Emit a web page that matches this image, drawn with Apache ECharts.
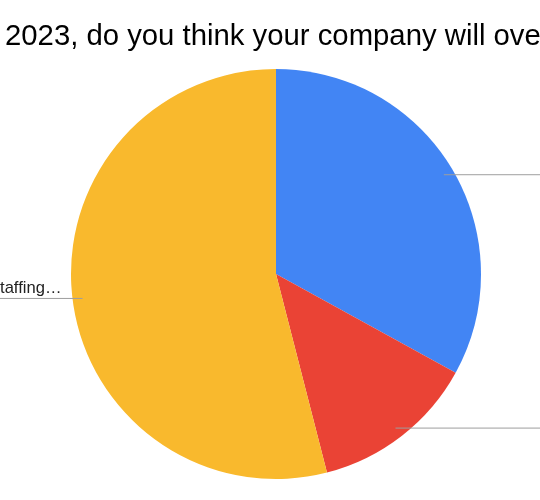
<!DOCTYPE html>
<html>
<head>
<meta charset="utf-8">
<script src="https://cdn.jsdelivr.net/npm/echarts@6/dist/echarts.min.js"></script>
<style>html,body{margin:0;padding:0;background:#fff}#c{width:540px;height:500px}</style>
</head>
<body>
<div id="c"></div>
<script>
const titleText = "2023, do you think your company will ove";
const categories = ["Yes", "Unsure", "taffing…"];
const values = [33, 13, 54];
const colors = ["#4285F4", "#EA4335", "#F9B92D"];
const shownLabels = [false, false, true];

const chart = echarts.init(document.getElementById('c'), null, {renderer: 'canvas'});
const pieData = categories.map((c, i) => ({name: c, value: values[i], itemStyle: {color: colors[i]}}));
const lineData = categories.map((c, i) => ({name: c, value: values[i]}));
const textData = categories.map((c, i) => ({
  name: c, value: values[i], label: {show: shownLabels[i]}
}));
const font = 'Liberation Sans, Arial';
chart.setOption({
  animation: false,
  title: {
    text: titleText, left: 0, top: 17,
    textStyle: {fontFamily: font, fontSize: 29.3, fontWeight: 'normal', color: '#000'}
  },
  series: [
    {
      type: 'pie', z: 1, center: [276, 274], radius: 205, startAngle: 90, clockwise: true,
      label: {show: false}, labelLine: {show: false}, silent: true,
      itemStyle: {borderWidth: 0},
      data: pieData
    },
    {
      type: 'pie', z: 3, center: [276, 274], radius: 195, startAngle: 90, clockwise: true,
      silent: true, avoidLabelOverlap: false,
      itemStyle: {color: 'rgba(0,0,0,0)', borderWidth: 0},
      label: {show: true, position: 'outside', color: 'rgba(0,0,0,0)', fontSize: 12, overflow: 'none',
        formatter: () => ' '},
      labelLine: {show: true, length: 0.01, length2: 200, minTurnAngle: 0, maxSurfaceAngle: 180,
        lineStyle: {color: '#9e9e9e', width: 1}},
      data: lineData
    },
    {
      type: 'pie', z: 4, center: [276, 274], radius: 195, startAngle: 90, clockwise: true,
      silent: true, avoidLabelOverlap: false,
      itemStyle: {color: 'rgba(0,0,0,0)', borderWidth: 0},
      label: {
        show: true, position: 'outside', fontFamily: font, fontSize: 16.6, color: '#222',
        distanceToLabelLine: 0, overflow: 'none', lineHeight: 20,
        formatter: (p) => p.name + '\n '
      },
      labelLine: {show: false, length: 0.01, length2: 21, minTurnAngle: 0, maxSurfaceAngle: 180},
      data: textData
    }
  ]
});
</script>
</body>
</html>
